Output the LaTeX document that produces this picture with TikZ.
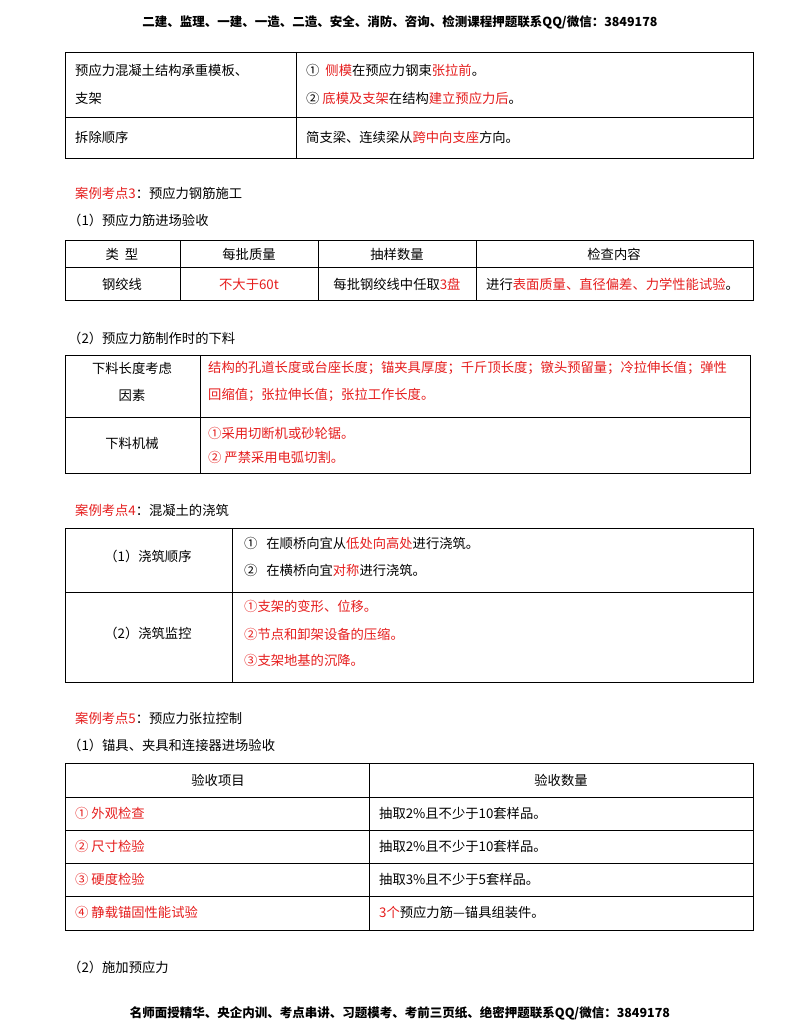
\documentclass[tikz,border=0pt]{standalone}
\usepackage{fontspec}
\setmainfont{Noto Sans CJK SC}
\usepackage{xcolor}
\definecolor{rd}{RGB}{230,30,30}
\newcommand{\R}[1]{\textcolor{rd}{#1}}
\begin{document}
\begin{tikzpicture}[x=1pt,y=-1pt,
  t/.style={anchor=west,inner sep=0,font=\fontsize{13.3}{15}\selectfont},
  c/.style={anchor=center,inner sep=0,font=\fontsize{13.3}{15}\selectfont},
  hd/.style={anchor=center,inner sep=0,font=\fontsize{12.5}{14}\selectfont\bfseries},
  ln/.style={line width=0.8pt}]
\useasboundingbox[fill=white] (0,0) rectangle (800,1035);
\node[hd] (h) at (400,22) {二建、监理、一建、一造、二造、安全、消防、咨询、检测课程押题联系QQ/微信：3849178};
% table 1
\draw[ln] (65,52) rectangle (753,158) (296,52)--(296,158) (65,117)--(753,117);
\node[t] (a1) at (75,70) {预应力混凝土结构承重模板、};
\node[t] (a2) at (75,98) {支架};
\node[t] (a3) at (306,70) {①\ \ \R{侧模}在预应力钢束\R{张拉前}。};
\node[t] (a4) at (306,98) {②\ \R{底模及支架}在结构\R{建立预应力后}。};
\node[t] (a5) at (75,137) {拆除顺序};
\node[t] (a6) at (306,137) {简支梁、连续梁从\R{跨中向支座}方向。};
\node[t] (s3) at (75,193) {\R{案例考点3}：预应力钢筋施工};
\node[t] (s31) at (68,220) {（1）预应力筋进场验收};
% table 2
\draw[ln] (65,240) rectangle (753,300) (65,267)--(753,267) (180,240)--(180,300) (318,240)--(318,300) (476,240)--(476,300);
\node[c] (b1) at (122,254) {类\ \ 型};
\node[c] (b2) at (249,254) {每批质量};
\node[c] (b3) at (397,254) {抽样数量};
\node[c] (b4) at (614,254) {检查内容};
\node[c] (b5) at (122,284) {钢绞线};
\node[c] (b6) at (249,284) {\R{不大于60t}};
\node[c] (b7) at (397,284) {每批钢绞线中任取\R{3盘}};
\node[t] (b8) at (486,284) {进行\R{表面质量、直径偏差、力学性能试验}。};
\node[t] (s32) at (68,338) {（2）预应力筋制作时的下料};
% table 3
\draw[ln] (65,355) rectangle (750,473) (65,417)--(750,417) (200,355)--(200,473);
\node[c] (c1) at (132,368) {下料长度考虑};
\node[c] (c2) at (132,395) {因素};
\node[t] (c3) at (208,368) {\R{结构的孔道长度或台座长度；锚夹具厚度；千斤顶长度；镦头预留量；冷拉伸长值；弹性}};
\node[t] (c4) at (208,395) {\R{回缩值；张拉伸长值；张拉工作长度。}};
\node[c] (c5) at (132,443) {下料机械};
\node[t] (c6) at (208,433) {\R{①采用切断机或砂轮锯。}};
\node[t] (c7) at (208,457) {\R{②\ 严禁采用电弧切割。}};
\node[t] (s4) at (75,510) {\R{案例考点4}：混凝土的浇筑};
% table 4
\draw[ln] (65,528) rectangle (753,682) (65,592)--(753,592) (232,528)--(232,682);
\node[c] (d1) at (148,556) {（1）浇筑顺序};
\node[t] (d2) at (244,543) {①\ \ \ 在顺桥向宜从\R{低处向高处}进行浇筑。};
\node[t] (d3) at (244,570) {②\ \ \ 在横桥向宜\R{对称}进行浇筑。};
\node[c] (d4) at (148,633) {（2）浇筑监控};
\node[t] (d5) at (244,606) {\R{①支架的变形、位移。}};
\node[t] (d6) at (244,634) {\R{②节点和卸架设备的压缩。}};
\node[t] (d7) at (244,660) {\R{③支架地基的沉降。}};
\node[t] (s5) at (75,718) {\R{案例考点5}：预应力张拉控制};
\node[t] (s51) at (68,745) {（1）锚具、夹具和连接器进场验收};
% table 5
\draw[ln] (65,763) rectangle (753,930) (369,763)--(369,930)
  (65,797)--(753,797) (65,830)--(753,830) (65,863)--(753,863) (65,896)--(753,896);
\node[c] (e1) at (218,780) {验收项目};
\node[c] (e2) at (561,780) {验收数量};
\node[t] (e3) at (75,813) {\R{①\ 外观检查}};
\node[t] (e4) at (379,813) {抽取2\%且不少于10套样品。};
\node[t] (e5) at (75,846) {\R{②\ 尺寸检验}};
\node[t] (e6) at (379,846) {抽取2\%且不少于10套样品。};
\node[t] (e7) at (75,879) {\R{③\ 硬度检验}};
\node[t] (e8) at (379,879) {抽取3\%且不少于5套样品。};
\node[t] (e9) at (75,912) {\R{④\ 静载锚固性能试验}};
\node[t] (e10) at (379,912) {\R{3个}预应力筋—锚具组装件。};
\node[t] (s52) at (68,967) {（2）施加预应力};
\node[hd] (f) at (400,1013) {名师面授精华、央企内训、考点串讲、习题模考、考前三页纸、绝密押题联系QQ/微信：3849178};
\end{tikzpicture}
\end{document}
